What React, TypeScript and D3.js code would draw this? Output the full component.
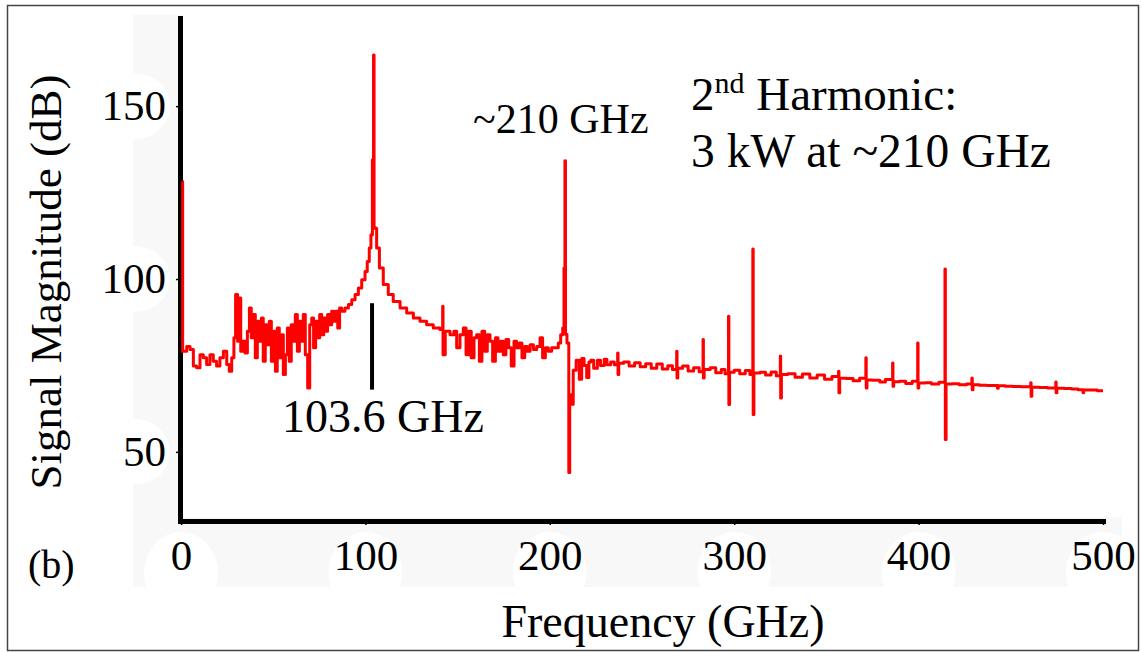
import React, { useEffect, useRef } from "react";
import * as d3 from "d3";

// Canvas
const WIDTH = 1142;
const HEIGHT = 652;
const FONT = '"Liberation Serif", "Times New Roman", serif';

// Axes
const X_DOMAIN = [0, 500];
const Y_DOMAIN = [30, 175.5];
const X_TICKS = [0, 100, 200, 300, 400, 500];
const Y_TICKS = [50, 100, 150];

// Spectrum: [frequency GHz, magnitude dB]
const FUNDAMENTAL_BAND: [number, number][] = [
  [0.8, 128.2], [0.9, 79.1], [3.1, 80.5], [4.9, 79.6], [6.7, 74.8], [8.5, 74.3], [10.3, 78.1],
  [12.1, 77.2], [13.9, 75.3], [15.7, 78.1], [17.5, 76.2], [19.3, 74.8], [21.1, 77.2], [23.0, 79.1],
  [24.8, 75.3], [26.2, 73.3], [27.5, 77.2], [28.7, 83.0], [29.6, 95.5], [30.7, 82.0], [31.5, 94.5],
  [32.4, 79.1], [33.4, 82.0], [34.7, 78.6], [36.0, 84.9], [37.1, 91.6], [38.1, 83.0], [39.2, 89.7],
  [40.3, 77.2], [41.4, 87.8], [42.5, 82.0], [43.6, 88.7], [44.6, 76.2], [45.7, 86.8], [46.8, 81.0],
  [47.9, 87.8], [49.0, 76.2], [50.1, 84.9], [51.2, 73.3], [52.2, 85.8], [53.3, 77.2], [54.4, 83.9],
  [55.5, 72.4], [56.6, 78.1], [57.7, 85.8], [58.7, 76.2], [59.8, 86.8], [60.9, 82.0], [62.0, 89.7],
  [63.1, 79.1], [64.2, 87.8], [65.3, 82.0], [66.3, 89.7], [67.4, 78.1], [68.7, 68.5], [69.8, 86.8],
  [70.9, 88.7], [71.9, 80.1], [73.0, 87.8], [74.1, 83.0], [75.2, 89.7], [76.3, 83.9], [77.4, 88.7],
  [78.5, 84.9], [79.5, 89.7], [80.6, 86.8], [81.7, 90.7], [82.8, 87.8], [83.9, 90.7], [85.0, 85.8],
  [86.0, 91.6], [87.1, 90.7], [88.9, 91.6], [90.8, 92.6], [92.6, 94.0], [94.4, 95.5], [96.2, 97.4],
  [98.0, 99.8], [99.8, 102.2], [101.0, 105.1], [102.1, 109.0], [103.0, 112.8], [103.8, 134.5],
  [104.1, 116.0], [104.4, 164.8], [104.7, 115.0], [105.2, 114.7], [106.1, 109.0], [107.6, 103.2],
  [109.7, 98.4], [112.4, 95.5], [115.1, 93.5], [118.8, 91.6], [122.4, 90.2], [126.0, 88.7],
  [129.6, 87.8], [133.2, 86.8], [136.8, 85.8], [140.4, 85.4], [141.9, 92.1], [142.1, 78.1],
  [143.3, 84.9], [145.9, 83.9], [148.0, 84.9], [149.5, 80.1], [151.3, 83.9], [153.1, 85.8],
  [154.6, 78.1], [156.0, 84.9], [157.4, 77.2], [158.9, 83.0], [160.3, 83.9], [161.8, 76.2],
  [163.2, 84.9], [164.7, 79.1], [166.1, 83.9], [167.6, 82.0], [169.0, 76.2], [170.5, 83.0],
  [171.9, 79.1], [173.4, 82.0], [174.8, 78.1], [176.2, 82.5], [177.7, 80.1], [179.1, 74.8],
  [180.6, 82.0], [182.0, 80.1], [183.5, 81.5], [184.9, 77.2], [186.4, 80.5], [187.8, 79.1],
  [189.3, 81.0], [191.1, 79.6], [192.9, 80.5], [194.7, 83.0], [196.1, 77.2], [197.6, 80.1],
  [199.2, 79.1], [201.0, 80.1], [202.8, 80.1], [204.6, 81.5], [205.9, 83.9], [207.0, 85.8]
];

const HARMONIC_BAND: [number, number][] = [
  [207.7, 103.2], [208.2, 134.2], [208.5, 84.0], [209.3, 81.5], [210.3, 44.0], [210.8, 66.5],
  [211.6, 63.8], [212.7, 73.6], [214.3, 76.5], [216.0, 71.0], [217.3, 77.0], [218.6, 75.0],
  [220.0, 71.5], [221.2, 76.0], [222.2, 76.5], [223.8, 74.2], [225.8, 76.5], [227.5, 75.0],
  [229.5, 76.8], [231.0, 75.2], [233.0, 76.0], [235.0, 75.2], [236.8, 78.6], [237.0, 72.4],
  [237.4, 75.6], [240.0, 76.0], [243.0, 74.8], [246.0, 75.8], [249.0, 74.6], [252.0, 75.5],
  [255.0, 74.2], [258.0, 75.4], [261.0, 74.0], [264.0, 74.9], [266.5, 73.8], [268.8, 79.1],
  [269.0, 71.4], [269.4, 74.2], [272.0, 74.8], [275.0, 73.4], [278.0, 74.3], [281.0, 73.2],
  [283.1, 82.5], [283.3, 71.4], [283.7, 73.8], [287.0, 74.3], [290.0, 72.9], [293.0, 73.8],
  [295.0, 72.6], [296.9, 89.2], [297.1, 63.7], [297.5, 73.0], [300.0, 73.6], [303.0, 72.6],
  [306.0, 73.5], [308.5, 72.4], [310.1, 108.7], [310.3, 60.8], [310.7, 72.8], [314.0, 73.0],
  [317.0, 72.2], [320.0, 73.1], [322.8, 72.0], [325.0, 77.7], [325.2, 65.6], [325.6, 72.4],
  [329.0, 72.6], [333.0, 71.6], [337.0, 72.5], [341.0, 71.4], [345.0, 72.2], [349.0, 71.0],
  [353.0, 71.8], [356.6, 73.3], [356.8, 67.1], [357.2, 71.3], [361.0, 71.2], [364.5, 70.6],
  [368.0, 71.3], [371.4, 77.2], [371.6, 68.5], [372.0, 70.8], [375.0, 70.7], [379.0, 70.2],
  [382.0, 70.9], [385.9, 75.7], [386.1, 69.0], [386.5, 70.3], [389.5, 70.4], [393.0, 69.8],
  [396.5, 70.4], [399.5, 81.5], [399.7, 68.5], [400.1, 69.9], [403.5, 70.0], [407.0, 69.6],
  [411.0, 70.1], [414.3, 102.9], [414.5, 53.6], [414.9, 69.6], [418.0, 69.7], [422.0, 69.4],
  [426.0, 69.6], [428.9, 71.4], [429.1, 68.0], [429.5, 69.4], [433.0, 69.3], [437.0, 69.2],
  [440.5, 69.2], [442.8, 68.4], [443.2, 69.1], [447.0, 69.0], [451.0, 68.9], [455.5, 68.8],
  [460.8, 70.0], [461.0, 66.1], [461.4, 68.7], [465.5, 68.6], [470.0, 68.5], [474.4, 70.2],
  [474.6, 67.1], [475.0, 68.4], [479.0, 68.3], [483.0, 68.2], [486.5, 68.0], [489.2, 67.1],
  [489.5, 67.9], [493.0, 67.9], [497.0, 67.7], [500.0, 67.7]
];

// Fundamental marker: frequency and dB span of the black bar
const MARKER_GHZ = 103.6;
const MARKER_DB = [68, 93];

export default function App() {
  const svgRef = useRef<SVGSVGElement>(null);

  useEffect(() => {
    drawChart();
  }, []);

  function drawChart() {
    const svg = d3.select(svgRef.current);
    svg.selectAll("*").remove();

    const x = d3.scaleLinear().domain(X_DOMAIN).range([181, 1103]);
    const y = d3.scaleLinear().domain(Y_DOMAIN).range([521, 18]);

    svg.append("rect").attr("width", WIDTH).attr("height", HEIGHT).attr("fill", "#fff");

    // faint grey frame behind the axes, white patches behind the labels
    svg.append("rect")
      .attr("x", 133).attr("y", 15).attr("width", 989).attr("height", 572)
      .attr("fill", "#f8f8f8");
    svg.append("defs").append("clipPath").attr("id", "band")
      .append("rect").attr("x", 133).attr("y", 15).attr("width", 989).attr("height", 572);
    const patches = svg.append("g").attr("clip-path", "url(#band)").attr("fill", "#fff");
    X_TICKS.forEach((t) => {
      patches.append("ellipse").attr("cx", x(t)).attr("cy", 572).attr("rx", 37).attr("ry", 40);
    });
    Y_TICKS.forEach((t) => {
      patches.append("ellipse").attr("cx", 134).attr("cy", y(t)).attr("rx", 36).attr("ry", 33);
    });
    svg.append("rect")
      .attr("x", 183).attr("y", 0).attr("width", 945).attr("height", 517)
      .attr("fill", "#fff");

    // outer border
    svg.append("rect")
      .attr("x", 7.5).attr("y", 5.5).attr("width", 1131).attr("height", 645)
      .attr("fill", "none").attr("stroke", "#444").attr("stroke-width", 1.5);

    // axes
    const xAxis = svg.append("g")
      .attr("transform", "translate(0,521)")
      .call(d3.axisBottom(x).tickValues(X_TICKS).tickSize(4).tickSizeOuter(0).tickFormat(d3.format("d")));
    const yAxis = svg.append("g")
      .attr("transform", "translate(180,0)")
      .call(d3.axisLeft(y).tickValues(Y_TICKS).tickSize(4).tickSizeOuter(0).tickPadding(10).tickFormat(d3.format("d")));

    [xAxis, yAxis].forEach((g) => {
      g.attr("font-family", FONT).attr("font-size", 43);
      g.select(".domain").attr("stroke", "#000").attr("stroke-width", 5).attr("stroke-linecap", "square");
      g.selectAll(".tick line").attr("stroke", "#000").attr("stroke-width", 1.5);
      g.selectAll(".tick text").attr("fill", "#000");
    });
    xAxis.selectAll(".tick text").attr("y", 49).attr("dy", 0);

    // spectrum, drawn stepwise like the sampled trace
    const line = d3.line<[number, number]>()
      .x((d) => x(d[0]))
      .y((d) => y(d[1]))
      .curve(d3.curveStepAfter);
    svg.append("path")
      .datum([...FUNDAMENTAL_BAND, ...HARMONIC_BAND])
      .attr("d", line)
      .attr("fill", "none")
      .attr("stroke", "#ff0000")
      .attr("stroke-width", 3)
      .attr("stroke-linejoin", "round");

    // marker bar under the fundamental
    svg.append("line")
      .attr("x1", x(MARKER_GHZ)).attr("x2", x(MARKER_GHZ))
      .attr("y1", y(MARKER_DB[0])).attr("y2", y(MARKER_DB[1]))
      .attr("stroke", "#000").attr("stroke-width", 4);

    const label = (tx, ty, size, str) =>
      svg.append("text")
        .attr("x", tx).attr("y", ty)
        .attr("font-family", FONT).attr("font-size", size)
        .attr("fill", "#000")
        .text(str);

    label(282, 432, 46, "103.6 GHz");
    label(473, 133, 42, "~210 GHz");
    label(28, 578, 40, "(b)");

    const harm = svg.append("text")
      .attr("x", 691).attr("y", 110)
      .attr("font-family", FONT).attr("font-size", 47).attr("fill", "#000");
    harm.append("tspan").text("2");
    harm.append("tspan").attr("font-size", 30).attr("dy", -17).text("nd");
    harm.append("tspan").attr("dy", 17).text(" Harmonic:");
    label(691, 167, 47.5, "3 kW at ~210 GHz");

    svg.append("text")
      .attr("x", 663).attr("y", 637)
      .attr("text-anchor", "middle")
      .attr("font-family", FONT).attr("font-size", 46).attr("fill", "#000")
      .text("Frequency (GHz)");

    svg.append("text")
      .attr("transform", "translate(61,282) rotate(-90)")
      .attr("text-anchor", "middle")
      .attr("font-family", FONT).attr("font-size", 45).attr("fill", "#000")
      .text("Signal Magnitude (dB)");
  }

  return (
    <svg
      ref={svgRef}
      width={WIDTH}
      height={HEIGHT}
      style={{ position: "absolute", left: 0, top: 0 }}
    ></svg>
  );
}
